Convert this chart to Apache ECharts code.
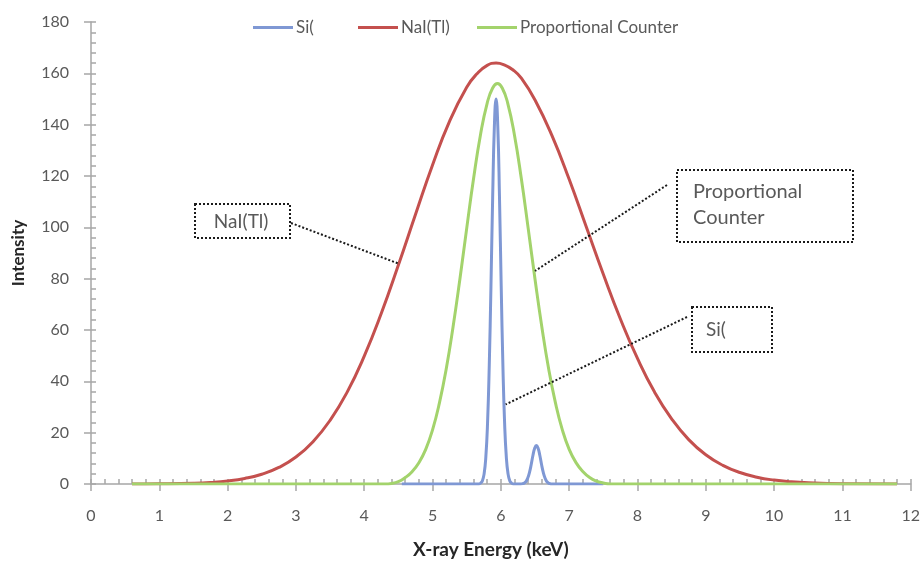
<!DOCTYPE html>
<html>
<head>
<meta charset="utf-8">
<script src="https://cdn.jsdelivr.net/npm/echarts@6/dist/echarts.min.js"></script>
<style>
html,body{margin:0;padding:0;background:#fff;}
#chart{width:923px;height:564px;}
</style>
</head>
<body>
<div id="chart"></div>
<script>
// ---- data ----
const xTicks = [0,1,2,3,4,5,6,7,8,9,10,11,12];
const yTicks = [0,20,40,60,80,100,120,140,160,180];

const siE = [4.55,5.0,5.4,5.6,5.66,5.68,5.705,5.73,5.755,5.78,5.805,5.83,5.855,5.88,5.905,5.93,5.955,5.98,6.005,6.03,6.055,6.08,6.105,6.13,6.155,6.18,6.2,6.25,6.29,6.30,6.32,6.345,6.37,6.395,6.42,6.445,6.47,6.495,6.52,6.545,6.57,6.595,6.62,6.645,6.67,6.695,6.72,6.74,6.76,6.82,7.0,7.5];
const siI = [0,0,0,0,0,0,0.37,1.3,4.0,10.5,23.6,46,77.1,111.6,139.3,150,139.3,111.6,77.1,46,23.6,10.5,4.0,1.3,0.37,0,0,0,0,0,0.13,0.4,1.05,2.4,4.6,7.7,11.2,13.9,15,13.9,11.2,7.7,4.6,2.4,1.05,0.4,0.13,0,0,0,0,0];

const naiE = [0.6,1.0,1.5,1.75,2.0,2.25,2.5,2.75,3.0,3.25,3.5,3.75,4.0,4.25,4.5,4.75,5.0,5.25,5.5,5.65,5.8,5.93,6.05,6.18,6.3,6.5,6.75,7.0,7.25,7.5,7.75,8.0,8.25,8.5,8.75,9.0,9.25,9.5,9.75,10.0,10.25,10.5,11.0,11.8];
const naiI = [0,0.07,0.31,0.61,1.17,2.15,3.8,6.45,10.5,16.5,24.8,35.8,49.8,66.5,85.3,105.0,124.3,141.4,154.6,159.8,163.1,164,163.3,161.3,158.1,149.6,135.6,118.7,100.2,81.7,64.3,48.9,35.8,25.4,17.3,11.4,7.28,4.47,2.65,1.52,0.84,0.45,0.11,0];

const pcE = [0.6,2.0,3.0,3.6,4.0,4.2,4.3,4.4,4.5,4.6,4.7,4.8,4.9,5.0,5.1,5.2,5.3,5.4,5.5,5.6,5.7,5.8,5.88,5.95,6.02,6.1,6.2,6.3,6.4,6.5,6.6,6.7,6.8,6.9,7.0,7.1,7.2,7.3,7.4,7.5,7.6,7.7,7.9,8.3,9.0,10.0,11.0,11.8];
const pcI = [0,0,0,0,0,0,0,0.2,0.9,2.5,4.8,8.3,13.5,21.1,31.5,44.8,61.2,79.8,99.6,118.9,135.8,148.4,154.3,156,154.3,148.4,135.8,118.9,99.6,79.8,61.2,44.8,31.5,21.1,13.5,8.32,4.89,2.5,1.1,0.4,0,0,0,0,0,0,0,0];

const names = ['Si(', 'NaI(Tl)', 'Proportional Counter'];
const colors = ['#7f98d4', '#c4504e', '#a3d36c'];

function pairs(xs, ys){ return xs.map((x,i)=>[x, ys[i]]); }

const FONT = 'Lato, "Open Sans", sans-serif';
const TXT = '#595959';
const AX = '#a6a6a6';

const chart = echarts.init(document.getElementById('chart'));

function mkSeries(i, xs, ys){
  return {
    name: names[i], type: 'line', data: pairs(xs, ys),
    smooth: 0.5, symbol: 'none',
    lineStyle: {color: colors[i], width: 3}, itemStyle: {color: colors[i]},
    z: 2 + i, animation: false
  };
}

function mkLegend(i, left){
  return {
    data: [names[i]], left: left, top: 14, icon: 'rect',
    itemWidth: 40, itemHeight: 3, itemGap: 4,
    textStyle: {color: TXT, fontSize: 17, fontFamily: FONT, padding: [0,0,0,-2]}
  };
}

const option = {
  backgroundColor: '#fff',
  animation: false,
  textStyle: {fontFamily: FONT},
  legend: [mkLegend(0, 248), mkLegend(1, 353), mkLegend(2, 472)],
  grid: {left: 91, right: 12, top: 22, bottom: 79, containLabel: false},
  xAxis: [{
    type: 'value', min: xTicks[0], max: xTicks[xTicks.length-1], interval: 1,
    name: 'X-ray Energy (keV)', nameLocation: 'middle', nameGap: 56,
    nameTextStyle: {fontSize: 19, fontWeight: 'bold', color: '#262626', fontFamily: FONT, padding: [0,20,0,0]},
    axisLine: {lineStyle: {color: AX, width: 1.5}},
    axisTick: {show: true, inside: false, length: 7, lineStyle: {color: AX, width: 1.5}},
    axisLabel: {color: TXT, fontSize: 16, margin: 24, fontFamily: FONT},
    splitLine: {show: false}
  }, {
    type: 'value', min: 0, max: 12, interval: 0.2, position: 'bottom', gridIndex: 0,
    axisLine: {show: false},
    axisTick: {show: true, inside: true, length: 5, lineStyle: {color: AX, width: 1.5}},
    axisLabel: {show: false}, splitLine: {show: false}
  }],
  yAxis: [{
    type: 'value', min: yTicks[0], max: yTicks[yTicks.length-1], interval: 20,
    name: 'Intensity', nameLocation: 'middle', nameGap: 64, nameRotate: 90,
    nameTextStyle: {fontSize: 17, fontWeight: 'bold', color: '#262626', fontFamily: FONT},
    axisLine: {show: true, lineStyle: {color: AX, width: 1.5}},
    axisTick: {show: true, inside: false, length: 7, lineStyle: {color: AX, width: 1.5}},
    axisLabel: {color: TXT, fontSize: 16, margin: 22, fontFamily: FONT},
    splitLine: {show: false}
  }, {
    type: 'value', min: 0, max: 180, interval: 4, position: 'left', offset: 0,
    axisLine: {show: false},
    axisTick: {show: true, inside: true, length: 5, lineStyle: {color: AX, width: 1.5}},
    axisLabel: {show: false}, splitLine: {show: false}
  }],
  series: [
    mkSeries(0, siE, siI),
    mkSeries(1, naiE, naiI),
    mkSeries(2, pcE, pcI)
  ]
};
chart.setOption(option);

// annotation call-outs (boxes positioned in pixels, pointers end on data coords)
const dot = {stroke: '#1a1a1a', lineWidth: 2, lineDash: [2, 2], fill: null};
function P(v){ return chart.convertToPixel({xAxisIndex: 0, yAxisIndex: 0}, v); }
const pN = P([4.49, 86]);
const pP = P([6.50, 83]);
const pS = P([6.07, 31]);

chart.setOption({
  graphic: [
    {type: 'rect', shape: {x: 195, y: 204, width: 95, height: 34}, style: dot, z: 50},
    {type: 'text', x: 241, y: 222, style: {text: 'NaI(Tl)', fill: TXT, font: '19px ' + FONT, align: 'center', verticalAlign: 'middle'}, z: 51},
    {type: 'line', shape: {x1: 291, y1: 223, x2: pN[0], y2: pN[1]}, style: dot, z: 50},

    {type: 'rect', shape: {x: 677, y: 170, width: 176, height: 72}, style: dot, z: 50},
    {type: 'text', x: 693, y: 192, style: {text: 'Proportional', fill: TXT, font: '20px ' + FONT, align: 'left', verticalAlign: 'middle'}, z: 51},
    {type: 'text', x: 693, y: 218, style: {text: 'Counter', fill: TXT, font: '20px ' + FONT, align: 'left', verticalAlign: 'middle'}, z: 51},
    {type: 'line', shape: {x1: 667, y1: 185, x2: pP[0], y2: pP[1]}, style: dot, z: 50},

    {type: 'rect', shape: {x: 692, y: 307, width: 80, height: 45}, style: dot, z: 50},
    {type: 'text', x: 706, y: 330, style: {text: 'Si(', fill: TXT, font: '19px ' + FONT, align: 'left', verticalAlign: 'middle'}, z: 51},
    {type: 'line', shape: {x1: 687, y1: 317, x2: pS[0], y2: pS[1]}, style: dot, z: 50}
  ]
});
</script>
</body>
</html>
